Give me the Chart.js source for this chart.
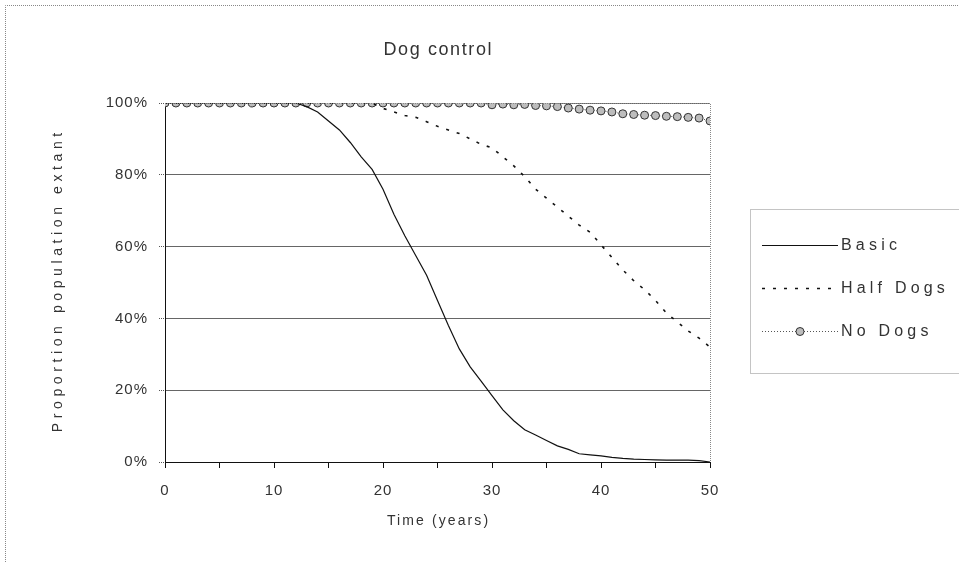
<!DOCTYPE html>
<html>
<head>
<meta charset="utf-8">
<script src="https://cdn.jsdelivr.net/npm/chart.js@4.4.1/dist/chart.umd.min.js"></script>
<style>
  html, body { margin: 0; padding: 0; background: #fff; }
  #wrap { width: 959px; height: 562px; }
</style>
</head>
<body>
<div id="wrap"><canvas id="dogs"></canvas></div>
<script>
const years = [0,1,2,3,4,5,6,7,8,9,10,11,12,13,14,15,16,17,18,19,20,21,22,23,24,25,
  26,27,28,29,30,31,32,33,34,35,36,37,38,39,40,41,42,43,44,45,46,47,48,49,50];

const basic = [100,100,100,100,100,100,100,100,100,100,100,100,100,99,97.5,95,92.5,89,85,81.5,
  76,69,63,57.5,52,45,38,31.5,26.5,22.5,18.5,14.5,11.5,9,7.5,6,4.5,3.5,2.3,2,
  1.7,1.3,1,0.8,0.7,0.6,0.5,0.5,0.5,0.4,0];

const halfDogs = [100,100,100,100,100,100,100,100,100,100,100,100,100,100,100,100,100,100,100,100,
  98.5,97.5,96.5,96,94.8,93.5,92.5,91.5,90,88.5,87.5,85,82.5,79.5,76,73.5,71,68.5,66,64,
  60.5,57,53.5,50.5,48,45,41.5,39,36.5,34.5,32];

const noDogs = [100,100,100,100,100,100,100,100,100,100,100,100,100,100,100,100,100,100,100,100,
  100,100,100,100,100,100,100,100,100,100,99.5,99.7,99.5,99.6,99.3,99.2,99,98.6,98.3,98,
  97.8,97.5,97,96.8,96.6,96.5,96.3,96.2,96,95.8,95];

const seriesNames = ['Basic', 'Half Dogs', 'No Dogs'];
const yTicks = [0, 20, 40, 60, 80, 100];

const textColor = '#333';
const fontFam = '"Liberation Sans", Arial, sans-serif';

function pts(vals) {
  return years.map((t, i) => ({ x: t, y: vals[i] }));
}

function spacedText(ctx, str, x, y, size, spacing, align, rot) {
  ctx.save();
  ctx.font = size + 'px ' + fontFam;
  ctx.letterSpacing = spacing + 'px';
  ctx.fillStyle = textColor;
  ctx.textBaseline = 'middle';
  ctx.translate(x, y);
  if (rot) ctx.rotate(rot);
  let w = ctx.measureText(str).width;
  let sx = align === 'center' ? -(w - spacing) / 2 : 0;
  ctx.textAlign = 'left';
  ctx.fillText(str, sx, 0);
  ctx.restore();
}

const framePlugin = {
  id: 'framePlugin',
  beforeDraw(chart) {
    const ctx = chart.ctx;
    ctx.save();
    ctx.fillStyle = '#fff';
    ctx.fillRect(0, 0, chart.width, chart.height);
    ctx.restore();
    ctx.letterSpacing = '1px';
  },
  afterDraw(chart) {
    const { ctx, chartArea: a } = chart;
    ctx.save();
    ctx.letterSpacing = '0px';
    ctx.strokeStyle = '#888';
    ctx.lineWidth = 1;
    ctx.setLineDash([1, 1]);
    // outer frame (top / left)
    ctx.beginPath();
    ctx.moveTo(5.5, 562);
    ctx.lineTo(5.5, 5.5);
    ctx.lineTo(959, 5.5);
    ctx.stroke();
    // plot area top and right edge
    ctx.beginPath();
    ctx.moveTo(a.left, Math.round(a.top) + 0.5);
    ctx.lineTo(Math.round(a.right) + 0.5, Math.round(a.top) + 0.5);
    ctx.lineTo(Math.round(a.right) + 0.5, a.bottom);
    ctx.stroke();
    // legend box
    ctx.strokeRect(750.5, 209.5, 220, 164);
    ctx.restore();

    // titles
    spacedText(ctx, 'Dog control', (a.left + a.right) / 2, 50, 18, 1.6, 'center');
    spacedText(ctx, 'Time (years)', (a.left + a.right) / 2, 521, 14, 2.1, 'center');
    spacedText(ctx, 'Proportion population extant', 58, (a.top + a.bottom) / 2, 14, 4.6, 'center', -Math.PI / 2);

    // legend entries
    const rows = [245, 288, 331];
    chart.data.datasets.forEach((ds, i) => {
      const y = rows[i] + 0.5;
      ctx.save();
      ctx.strokeStyle = ds.borderColor;
      ctx.lineWidth = ds.borderWidth;
      ctx.setLineDash(ds.borderDash || []);
      ctx.beginPath();
      ctx.moveTo(762, y);
      ctx.lineTo(838, y);
      ctx.stroke();
      if (ds.pointRadius > 0) {
        ctx.setLineDash([]);
        ctx.fillStyle = ds.pointBackgroundColor;
        ctx.strokeStyle = ds.pointBorderColor;
        ctx.lineWidth = 1;
        ctx.beginPath();
        ctx.arc(800, y, ds.pointRadius, 0, Math.PI * 2);
        ctx.fill();
        ctx.stroke();
      }
      ctx.restore();
      spacedText(ctx, ds.label, 841, y, 16, 4.2, 'left');
    });
  }
};

new Chart(document.getElementById('dogs'), {
  type: 'line',
  data: {
    datasets: [
      {
        label: seriesNames[0],
        data: pts(basic),
        borderColor: '#111',
        borderWidth: 1.2,
        pointRadius: 0,
        tension: 0
      },
      {
        label: seriesNames[1],
        data: pts(halfDogs),
        borderColor: '#111',
        borderWidth: 1.6,
        borderDash: [3, 8],
        pointRadius: 0,
        tension: 0
      },
      {
        label: seriesNames[2],
        data: pts(noDogs),
        borderColor: '#555',
        borderWidth: 1,
        borderDash: [1, 2],
        pointRadius: 4,
        pointBackgroundColor: '#bdbdbd',
        pointBorderColor: '#333',
        pointBorderWidth: 1,
        tension: 0
      }
    ]
  },
  options: {
    responsive: true,
    maintainAspectRatio: false,
    animation: false,
    layout: { padding: { left: 0, top: 103, right: 249, bottom: 0 } },
    plugins: {
      legend: { display: false },
      tooltip: { enabled: false }
    },
    scales: {
      x: {
        type: 'linear',
        min: 0,
        max: 50,
        afterFit(scale) { scale.height = 100; },
        border: { color: '#111', width: 1 },
        grid: { drawOnChartArea: false, drawTicks: true, tickLength: 6, color: '#111' },
        ticks: {
          stepSize: 5,
          autoSkip: false,
          maxRotation: 0,
          padding: 14,
          color: textColor,
          font: { family: fontFam, size: 15 },
          callback: v => (v % 10 === 0 ? v : '')
        }
      },
      y: {
        min: 0,
        max: 100,
        afterFit(scale) { scale.width = 165; },
        afterBuildTicks(scale) { scale.ticks = yTicks.map(v => ({ value: v })); },
        border: { color: '#111', width: 1 },
        grid: {
          color: '#666',
          lineWidth: 1,
          borderDash: [1, 2],
          drawTicks: true,
          tickLength: 6,
          tickColor: '#555',
          tickBorderDash: [1, 1]
        },
        ticks: {
          padding: 11,
          color: textColor,
          font: { family: fontFam, size: 15 },
          callback: v => v + '%'
        }
      }
    }
  },
  plugins: [framePlugin]
});
</script>
</body>
</html>
